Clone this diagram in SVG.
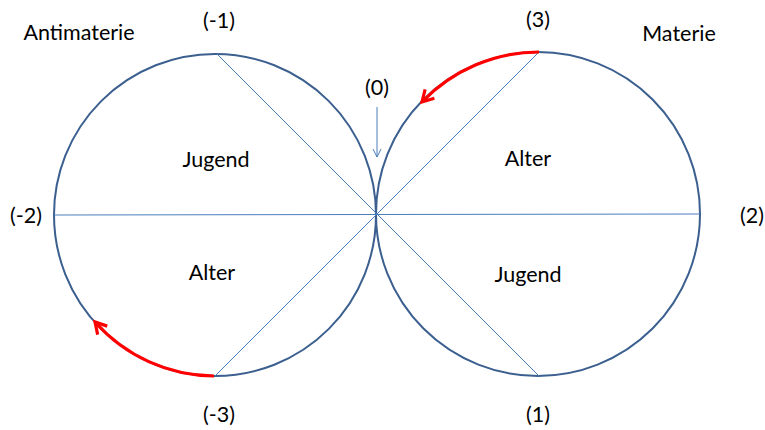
<svg xmlns="http://www.w3.org/2000/svg" width="765" height="430" viewBox="0 0 765 430">
<style>
.circ{fill:none;stroke:#3b5f8f;stroke-width:2}
.ln{fill:none;stroke:#4a7ebb;stroke-width:1}
.red{fill:none;stroke:#ff0000;stroke-width:3.2;marker-end:url(#ra)}
text{font-family:Lato,"Liberation Sans",sans-serif;font-size:21.5px;fill:#000;text-anchor:middle}
</style>
<defs>
<marker id="ra" viewBox="0 0 10 10" refX="8" refY="5" markerWidth="5" markerHeight="5" orient="auto" markerUnits="strokeWidth">
<path d="M1,1 L8,5 L1,9" fill="none" stroke="#ff0000" stroke-width="2"/>
</marker>
<marker id="ba" viewBox="0 0 10 10" refX="9" refY="5" markerWidth="10" markerHeight="10" orient="auto" markerUnits="userSpaceOnUse">
<path d="M1,1 L9,5 L1,9" fill="none" stroke="#4a7ebb" stroke-width="1"/>
</marker>
</defs>
<g id="left-circle">
<circle class="circ" cx="215" cy="215" r="161"/>
<text x="216" y="167">Jugend</text>
<text x="212" y="280">Alter</text>
</g>
<g id="right-circle">
<circle class="circ" cx="538" cy="214" r="162"/>
<text x="528" y="166">Alter</text>
<text x="528" y="282">Jugend</text>
</g>
<g id="labels">
<text x="79" y="40">Antimaterie</text>
<text x="679" y="41">Materie</text>
<text x="219" y="28">(-1)</text>
<text x="538" y="27">(3)</text>
<text x="377" y="95">(0)</text>
<text x="26" y="223">(-2)</text>
<text x="752" y="223">(2)</text>
<text x="219" y="422">(-3)</text>
<text x="538" y="422">(1)</text>
</g>
<g id="connectors">
<line class="ln" x1="217" y1="54" x2="539" y2="376"/>
<line class="ln" x1="539" y1="52" x2="215" y2="376"/>
<line class="ln" x1="54" y1="215" x2="700" y2="214"/>
<line class="ln" x1="377" y1="107" x2="377" y2="157" marker-end="url(#ba)"/>
<path class="red" d="M539,52 A162,162 0 0 0 422,102"/>
<path class="red" d="M214,376 A161,161 0 0 1 95,322"/>
</g>
</svg>
